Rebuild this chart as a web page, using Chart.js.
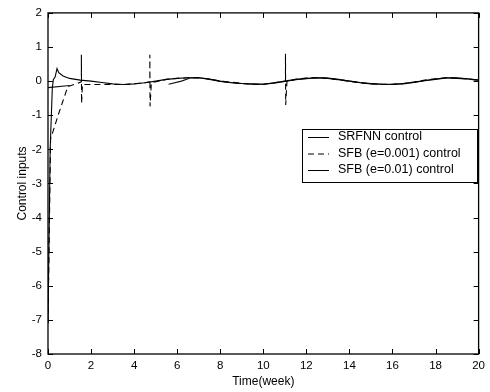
<!DOCTYPE html>
<html><head><meta charset="utf-8">
<script src="https://cdn.jsdelivr.net/npm/chart.js@4/dist/chart.umd.min.js"></script>
<style>html,body{margin:0;padding:0;background:#fff}#c{display:block}</style>
</head><body>
<canvas id="c" width="490" height="392"></canvas>
<script>
const xTicks = [0,2,4,6,8,10,12,14,16,18,20];
const yTicks = [-8,-7,-6,-5,-4,-3,-2,-1,0,1,2];
const seriesLabels = ["SRFNN control","SFB (e=0.001) control","SFB (e=0.01) control"];

const srfnnX = [0,0.05,0.1,0.2,0.25,0.33,0.42,0.5,0.7,1.0,1.5,2,2.5,3,3.5,4,4.5,5,5.5,6,6.5,7,7.5,8,8.5,9,9.5,10,10.5,11,11.5,12,12.5,13,13.5,14,14.5,15,15.5,16,16.5,17,17.5,18,18.5,19,19.5,20];
const srfnnY = [-7.1,-4.5,-2.0,-0.2,0.05,0.12,0.37,0.25,0.15,0.08,0.03,0.0,-0.04,-0.08,-0.1,-0.08,-0.05,0.0,0.05,0.08,0.1,0.1,0.06,0.0,-0.04,-0.07,-0.09,-0.09,-0.05,0.0,0.05,0.08,0.1,0.08,0.04,0.0,-0.05,-0.08,-0.09,-0.09,-0.07,-0.03,0.02,0.06,0.1,0.08,0.06,0.03];

const sfb001X = [0,0.12,0.47,0.92,1.3,1.55,1.55,1.56,1.6,2.0,2.5,3,3.5,4,4.5,4.73,4.73,4.74,4.8,5.5,6,6.5,7,7.5,8,8.5,9,9.5,10,10.5,11.03,11.03,11.04,11.1,11.5,12,12.5,13,13.5,14,14.5,15,15.5,16,16.5,17,17.5,18,18.5,19,19.5,20];
const sfb001Y = [-7.1,-1.7,-1.0,-0.16,-0.08,-0.02,0.77,-0.65,-0.1,-0.1,-0.1,-0.1,-0.1,-0.08,-0.05,-0.02,0.77,-0.74,-0.05,0.05,0.08,0.1,0.1,0.06,0.0,-0.03,-0.07,-0.09,-0.09,-0.05,0.0,0.8,-0.7,0.0,0.05,0.09,0.1,0.08,0.04,0.0,-0.05,-0.08,-0.09,-0.09,-0.07,-0.03,0.03,0.07,0.1,0.09,0.06,0.03];

const sfb01X = [0,1.0,null,5.6,6.2,6.6,7,7.5,8,8.5,9,9.5,10,10.5,11,11.5,12,12.5,13,13.5,14,14.5,15,15.5,16,16.5,17,17.5,18,18.5,19,19.5,20];
const sfb01Y = [-0.19,-0.13,null,-0.09,0.0,0.09,0.1,0.05,-0.01,-0.05,-0.07,-0.08,-0.09,-0.06,-0.01,0.04,0.07,0.1,0.09,0.05,0.0,-0.04,-0.07,-0.09,-0.1,-0.08,-0.04,0.01,0.05,0.09,0.1,0.07,0.03];

function pts(xs, ys){ return xs.map((x,i)=> x===null ? {x:null,y:null} : {x:x,y:ys[i]}); }

const FONT = "'Liberation Sans', Arial, sans-serif";

const boxTicks = {
  id:'boxTicks',
  afterDraw(chart){
    const {ctx, chartArea:a, scales:{x,y}} = chart;
    ctx.save();
    ctx.strokeStyle = '#000';
    ctx.lineWidth = 1;
    ctx.beginPath();
    xTicks.forEach(v=>{
      const px = Math.round(x.getPixelForValue(v))+0.5;
      ctx.moveTo(px,a.bottom); ctx.lineTo(px,a.bottom-5);
      ctx.moveTo(px,a.top); ctx.lineTo(px,a.top+5);
    });
    yTicks.forEach(v=>{
      const py = Math.round(y.getPixelForValue(v))+0.5;
      ctx.moveTo(a.left,py); ctx.lineTo(a.left+5,py);
      ctx.moveTo(a.right,py); ctx.lineTo(a.right-5,py);
    });
    ctx.stroke();
    ctx.lineWidth = 1.3;
    ctx.strokeRect(a.left, a.top, a.right-a.left, a.bottom-a.top);
    // legend
    const lx = 302, ly = 129, lw = 175, lh = 53;
    ctx.fillStyle = '#fff';
    ctx.fillRect(lx, ly, lw, lh);
    ctx.lineWidth = 1;
    ctx.strokeRect(lx+0.5, ly+0.5, lw, lh);
    ctx.font = '12.5px ' + FONT;
    ctx.textBaseline = 'middle';
    ctx.fillStyle = '#000';
    const rows = [137, 153.5, 170];
    chart.data.datasets.forEach((ds,i)=>{
      ctx.beginPath();
      ctx.setLineDash(ds.borderDash || []);
      ctx.lineWidth = 1;
      ctx.moveTo(308, rows[i]+0.5); ctx.lineTo(329, rows[i]+0.5);
      ctx.stroke();
      ctx.setLineDash([]);
      ctx.fillText(ds.label, 338, rows[i]);
    });
    ctx.restore();
  }
};

new Chart(document.getElementById('c'), {
  type:'line',
  data:{
    datasets:[
      {label:seriesLabels[0], data:pts(srfnnX,srfnnY), borderColor:'#000', borderWidth:1.1, pointRadius:0, tension:0, spanGaps:false},
      {label:seriesLabels[1], data:pts(sfb001X,sfb001Y), borderColor:'#000', borderWidth:1.1, borderDash:[6,4], pointRadius:0, tension:0, spanGaps:false},
      {label:seriesLabels[2], data:pts(sfb01X,sfb01Y), borderColor:'#111', borderWidth:1.1, pointRadius:0, tension:0, spanGaps:false}
    ]
  },
  options:{
    responsive:false, animation:false,
    layout:{padding:{left:0, top:11, right:8, bottom:0}},
    plugins:{legend:{display:false}, tooltip:{enabled:false}},
    scales:{
      x:{type:'linear', min:0, max:20,
        afterFit(s){ s.height = 38; },
        afterBuildTicks(s){ s.ticks = xTicks.map(v=>({value:v})); },
        grid:{display:false, drawTicks:false},
        border:{display:false},
        ticks:{color:'#000', font:{family:FONT, size:11.5}, padding:5, maxRotation:0, autoSkip:false},
        title:{display:true, text:'Time(week)', color:'#000', font:{family:FONT, size:12}, padding:{top:0,bottom:3}}
      },
      y:{type:'linear', min:-8, max:2,
        afterFit(s){ s.width = 48; },
        afterBuildTicks(s){ s.ticks = yTicks.map(v=>({value:v})); },
        grid:{display:false, drawTicks:false},
        border:{display:false},
        ticks:{color:'#000', font:{family:FONT, size:11.5}, padding:6, autoSkip:false},
        title:{display:true, text:'Control inputs', color:'#000', font:{family:FONT, size:12}, padding:{top:15,bottom:0}}
      }
    }
  },
  plugins:[boxTicks]
});
</script>
</body></html>
